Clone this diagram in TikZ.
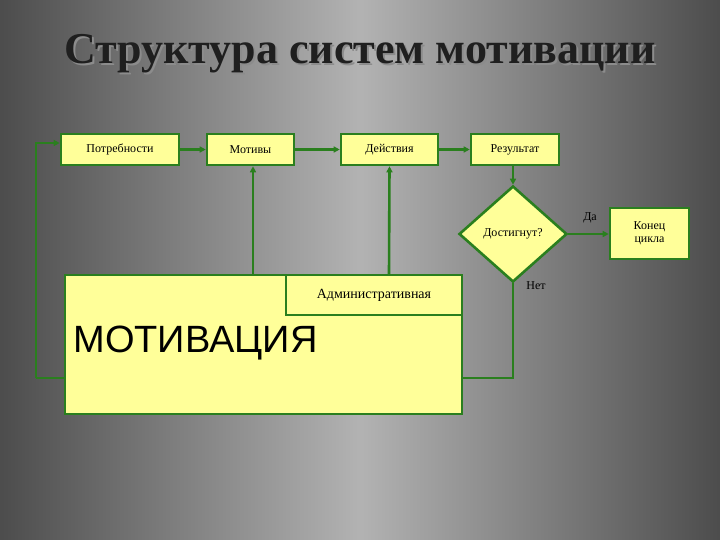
\documentclass[tikz,border=0pt]{standalone}
\usepackage{fontspec}
\setmainfont{Liberation Serif}
\newfontfamily\sansf{Liberation Sans}
\usetikzlibrary{shapes.geometric,arrows.meta}
\definecolor{gr}{HTML}{2A7F1E}
\definecolor{yel}{HTML}{FFFF99}
\begin{document}
\begin{tikzpicture}[x=1pt,y=-1pt,
  box/.style={draw=gr,line width=2.6pt,fill=yel,inner sep=0pt},
  lbl/.style={font=\fontsize{12}{13}\selectfont},
  arr/.style={draw=gr,line width=2.6pt,-{Triangle[length=6pt,width=6pt]}},
  ln/.style={draw=gr,line width=2.6pt}]
\shade[left color=black!70,right color=black!70,middle color=black!30] (0,0) rectangle (720,540);
\useasboundingbox (0,0) rectangle (720,540);
\node[font=\fontsize{44}{46}\selectfont\bfseries,text=black!45] (tsh) at (362,56) {Структура систем мотивации};
\node[font=\fontsize{44}{46}\selectfont\bfseries,text=black!88] (title) at (360,54) {Структура систем мотивации};
\node[box,minimum width=118,minimum height=31,lbl] (p) at (120,149.5) {Потребности};
\node[box,minimum width=87,minimum height=31,lbl] (m) at (250.5,149.5) {Мотивы};
\node[box,minimum width=97,minimum height=31,lbl] (d) at (389.5,149.5) {Действия};
\node[box,minimum width=88,minimum height=31,lbl] (r) at (515,149.5) {Результат};
\node[box,diamond,minimum width=108,minimum height=96,lbl] (q) at (513,234) {Достигнут?};
\node[box,minimum width=79,minimum height=51,lbl,align=center] (k) at (649.5,233.5) {Конец\\цикла};
\node[box,minimum width=397,minimum height=139] (big) at (263.5,344.5) {};
\node[box,minimum width=176,minimum height=40,font=\fontsize{14}{15}\selectfont] (adm) at (374,295) {Административная};
\node[font=\sansf\fontsize{38}{40}\selectfont,anchor=west] (mot) at (70,343) {МОТИВАЦИЯ};
\node[lbl] (da) at (590,218) {Да};
\node[lbl] (net) at (536,286) {Нет};
\coordinate (l1) at (36,378);
\coordinate (l2) at (36,143);
\coordinate (r1) at (513,378);
\draw[ln] (big.west|-l1) -- (l1);
\draw[arr] (l1) -- (l2) -- (p.west|-l2);
\draw[arr] (p) -- (m);
\draw[arr] (m) -- (d);
\draw[arr] (d) -- (r);
\draw[arr] (r.south-|q.north) -- (q.north);
\draw[arr] (q.east) -- (k.west|-q.east);
\draw[ln] (q.south) -- (r1) -- (big.east|-r1);
\draw[arr] (253,275) -- (m.south-|253,0);
\draw[arr] (389,275) -- (d.south);
\end{tikzpicture}
\end{document}
